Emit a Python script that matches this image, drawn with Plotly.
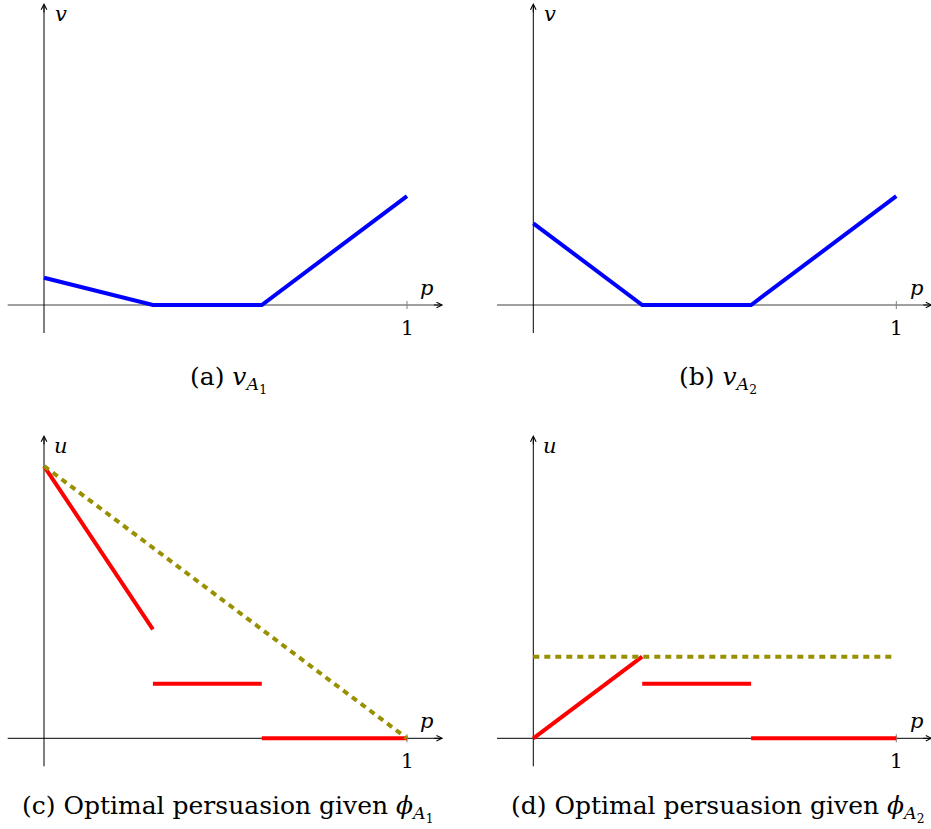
import plotly.graph_objects as go

# values (p on the horizontal axis, v / u on the vertical)
p_v = [0, 0.3, 0.6, 1]
v_a1 = [0.075, 0, 0, 0.3]
v_a2 = [0.225, 0, 0, 0.3]

# optimal persuasion given phi_A1 (red pieces, gaps between them) and its concave hull
p_red_c = [0, 0.3, None, 0.3, 0.6, None, 0.6, 1]
u_red_c = [0.75, 0.3, None, 0.15, 0.15, None, 0, 0]
p_hull_c = [0, 1]
u_hull_c = [0.75, 0]

# optimal persuasion given phi_A2
p_red_d = [0, 0.3, None, 0.3, 0.6, None, 0.6, 1]
u_red_d = [0, 0.225, None, 0.15, 0.15, None, 0, 0]
p_hull_d = [0, 1]
u_hull_d = [0.225, 0.225]

captions = ["(a) <i>v</i><sub><i>A</i><sub>1</sub></sub>",
            "(b) <i>v</i><sub><i>A</i><sub>2</sub></sub>",
            "(c) Optimal persuasion given <i>ϕ</i><sub><i>A</i><sub>1</sub></sub>",
            "(d) Optimal persuasion given <i>ϕ</i><sub><i>A</i><sub>2</sub></sub>"]
y_names = ["v", "v", "u", "u"]

W, H = 931, 829
S = 363.0          # pixels per unit
FONT = "DejaVu Serif"
BLUE = "#0000ff"
RED = "#ff0000"
OLIVE = "#999000"

# panel: (x0px, x1px, y0px(top), y1px(bottom), origin x px, origin y px)
panels = [
    (0, 465.5, 0, 400, 44, 305),
    (465.5, W, 0, 400, 533.3, 305),
    (0, 465.5, 400, H, 44, 738.3),
    (465.5, W, 400, H, 533.3, 738.3),
]

fig = go.Figure()
layout = dict(width=W, height=H, margin=dict(l=0, r=0, t=0, b=0, autoexpand=False),
              paper_bgcolor="white", plot_bgcolor="white", showlegend=False)

for i, (x0, x1, y0, y1, ox, oy) in enumerate(panels):
    n = "" if i == 0 else str(i + 1)
    layout["xaxis" + n] = dict(domain=[x0 / W, x1 / W], range=[(x0 - ox) / S, (x1 - ox) / S],
                               visible=False, anchor="y" + n)
    layout["yaxis" + n] = dict(domain=[1 - y1 / H, 1 - y0 / H], range=[(oy - y1) / S, (oy - y0) / S],
                               visible=False, anchor="x" + n)
fig.update_layout(**layout)

shapes = []
annotations = []
for i, (x0, x1, y0, y1, ox, oy) in enumerate(panels):
    n = "" if i == 0 else str(i + 1)
    xr, yr = "x" + n, "y" + n
    top = i < 2
    tip_px = 3 if top else 435
    ytop = (oy - tip_px) / S
    ybot = -28 / S
    # horizontal axis
    shapes.append(dict(type="line", xref=xr, yref=yr, x0=-0.1, x1=1.095, y0=0, y1=0,
                       line=dict(color="#808080" if top else "black", width=1.6 if top else 1),
                       layer="below"))
    annotations.append(dict(xref=xr, yref=yr, axref=xr, ayref=yr, x=1.1, y=0, ax=1.07, ay=0,
                            text="", showarrow=True, arrowhead=5, arrowsize=1.1, arrowwidth=1,
                            arrowcolor="black"))
    # vertical axis
    shapes.append(dict(type="line", xref=xr, yref=yr, x0=0, x1=0, y0=ybot, y1=ytop - 0.005,
                       line=dict(color="black", width=1), layer="below"))
    annotations.append(dict(xref=xr, yref=yr, axref=xr, ayref=yr, x=0, y=ytop, ax=0, ay=ytop - 0.03,
                            text="", showarrow=True, arrowhead=5, arrowsize=1.1, arrowwidth=1,
                            arrowcolor="black"))
    # tick at p = 1
    shapes.append(dict(type="line", xref=xr, yref=yr, x0=1, x1=1, y0=-4 / S, y1=4 / S,
                       line=dict(color="#808080", width=1), layer="below"))
    annotations.append(dict(xref=xr, yref=yr, x=1, y=0, text="1", showarrow=False,
                            yanchor="top", yshift=-9, font=dict(family=FONT, size=20, color="black")))
    annotations.append(dict(xref=xr, yref=yr, x=1.055, y=0, text="<i>p</i>", showarrow=False,
                            yanchor="bottom", yshift=3, font=dict(family=FONT, size=21, color="black")))
    annotations.append(dict(xref=xr, yref=yr, x=0.047, y=(oy - tip_px - 11) / S,
                            text="<i>" + y_names[i] + "</i>", showarrow=False, yanchor="middle",
                            font=dict(family=FONT, size=21, color="black")))
    # caption
    cx = 228 if i % 2 == 0 else 718
    cy = 380 if top else 808
    annotations.append(dict(xref="paper", yref="paper", x=cx / W, y=1 - cy / H,
                            text=captions[i], showarrow=False, xanchor="center", yanchor="middle",
                            font=dict(family=FONT, size=25, color="black")))

fig.update_layout(shapes=shapes, annotations=annotations)

fig.add_trace(go.Scatter(x=p_v, y=v_a1, mode="lines", line=dict(color=BLUE, width=4),
                         xaxis="x", yaxis="y"))
fig.add_trace(go.Scatter(x=p_v, y=v_a2, mode="lines", line=dict(color=BLUE, width=4),
                         xaxis="x2", yaxis="y2"))
fig.add_trace(go.Scatter(x=p_red_c, y=u_red_c, mode="lines", line=dict(color=RED, width=4),
                         xaxis="x3", yaxis="y3", connectgaps=False))
fig.add_trace(go.Scatter(x=p_hull_c, y=u_hull_c, mode="lines",
                         line=dict(color=OLIVE, width=4, dash="6px,5px"), xaxis="x3", yaxis="y3"))
fig.add_trace(go.Scatter(x=p_red_d, y=u_red_d, mode="lines", line=dict(color=RED, width=4),
                         xaxis="x4", yaxis="y4", connectgaps=False))
fig.add_trace(go.Scatter(x=p_hull_d, y=u_hull_d, mode="lines",
                         line=dict(color=OLIVE, width=4, dash="6px,5px"), xaxis="x4", yaxis="y4"))

# drop the page's default body margin so the 931x829 figure fills the window exactly
fig.write_html("out.html", config={"displayModeBar": False},
               post_script="document.body.style.margin='0';")
